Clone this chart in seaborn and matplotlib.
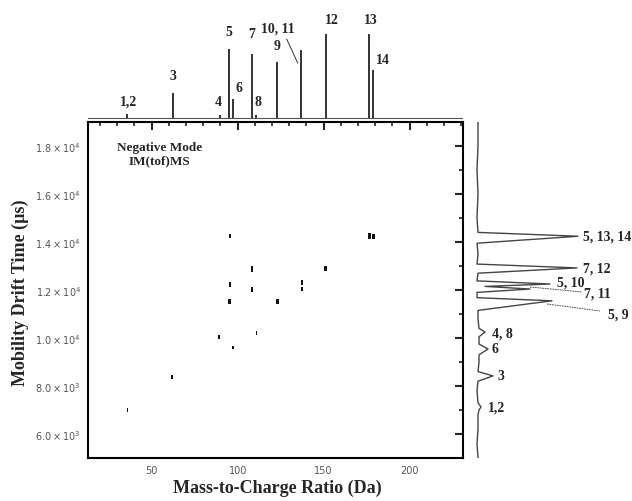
import numpy as np
import matplotlib.pyplot as plt
import seaborn as sns
from matplotlib.ticker import MultipleLocator, FuncFormatter

sns.set_style("white")
plt.rcParams['font.family'] = ['Liberation Serif', 'DejaVu Serif']

# 2D spots (m/z, drift time, rough intensity)
spot_mz = [36, 62, 89, 95.3, 95.3, 95.3, 97.3, 108.5, 108.5, 110.9,
           123.1, 137.4, 137.4, 151.2, 176.6, 179.0]
spot_drift = [7000, 8375, 10040, 14250, 12220, 11530, 9600, 12875, 12010, 10210,
              11530, 12320, 12040, 12900, 14240, 14240]
spot_int = [4, 25, 3, 40, 40, 45, 12, 60, 50, 3, 56, 40, 40, 84, 84, 48]

# top mass spectrum: peak positions and heights
top_mz = [35.9, 62.4, 89.5, 94.9, 97.3, 108.3, 110.9, 122.9, 137.0, 151.2, 176.3, 178.7]
top_int = [4, 25, 3, 69, 19, 64, 3, 56, 68, 84, 84, 48]
top_labels = ["1,2", "3", "4", "5", "6", "7", "8", "9", "10, 11", "12", "13", "14"]
top_label_x = [36.6, 62.2, 89.0, 94.8, 100.6, 108.1, 111.6, 122.7, 123.3, 154.7, 177.3, 184.3]
top_label_y = [16.5, 41.5, 16.5, 85.5, 29.5, 83.5, 16.5, 71.5, 89.5, 98.5, 98.5, 57.5]

# right mobility spectrum (drift time, intensity)
drift_t = [5000, 5600, 6200, 6800, 7000, 7125, 7300, 7800, 8200, 8420, 8600, 9000,
           9300, 9540, 9750, 10050, 10250, 10400, 10800, 11150, 11550, 11680,
           11900, 12040, 12150, 12250, 12380, 12700, 12920, 13080, 13500, 13950,
           14240, 14400, 15000, 16000, 17000, 18000, 19000]
drift_int = [3, 2, 3, 3, 4, 6, 3, 2, 3, 18, 3, 4,
             4, 13, 4, 4, 10, 4, 3, 3, 77, 2,
             2, 55, 10, 75, 2, 3, 102, 2, 3, 2,
             103, 3, 2, 3, 2, 3, 3]
right_labels = ["5, 13, 14", "7, 12", "5, 10", "7, 11", "5, 9", "4, 8", "6", "3", "1,2"]
right_label_x = [108, 108, 82, 109, 133, 17, 17, 23, 13]
right_label_y = [14250, 12917, 12333, 11875, 11000, 10208, 9542, 8417, 7125]

W, H = 632, 502


def box(l, t, r, b):
    return [l / W, 1 - b / H, (r - l) / W, (b - t) / H]


fig = plt.figure(figsize=(6.32, 5.02), dpi=100)
ax = fig.add_axes(box(88, 123, 463, 459))
ax_top = fig.add_axes(box(88, 10, 463, 123))
ax_right = fig.add_axes(box(465, 123, 632, 459))

# main 2D map
rect = [(-1, -2.2), (1, -2.2), (1, 2.2), (-1, 2.2)]
sns.scatterplot(x=spot_mz, y=spot_drift, size=spot_int, sizes=(6, 17),
                marker=rect, color='#111111', linewidth=0,
                legend=False, ax=ax)
ax.set_xlim(13, 231)
ax.set_ylim(5000, 19000)
ax.xaxis.set_major_locator(MultipleLocator(50))
ax.xaxis.set_minor_locator(MultipleLocator(10))
ax.yaxis.set_major_locator(MultipleLocator(2000))
ax.yaxis.set_minor_locator(MultipleLocator(1000))


def sci(v, pos):
    e = int(np.floor(np.log10(v)))
    return rf"${v / 10 ** e:.1f}\times10^{{{e}}}$"


ax.yaxis.set_major_formatter(FuncFormatter(sci))
ax.tick_params(which='both', direction='in', top=True, right=True,
               labelsize=7, labelcolor='#555555', pad=5)
ax.tick_params(which='major', length=6, width=1.5)
ax.tick_params(which='minor', length=3, width=1.2)
for lab in ax.get_xticklabels() + ax.get_yticklabels():
    lab.set_family('DejaVu Sans')
for s in ax.spines.values():
    s.set_linewidth(1.5)
    s.set_color('black')

ax.set_xlabel("Mass-to-Charge Ratio (Da)", fontsize=13, fontweight='bold')
ax.set_ylabel("Mobility Drift Time (µs)", fontsize=13, fontweight='bold')
ax.xaxis.set_label_coords(0.505, -0.062)
ax.yaxis.set_label_coords(-0.158, 0.494)
ax.text(0.19, 0.905, "Negative Mode\nIM(tof)MS", transform=ax.transAxes,
        ha='center', va='center', fontsize=9.5, fontweight='bold', linespacing=1.1)

# top mass spectrum
ax_top.plot([13, 231], [0, 0], color='#555555', lw=0.8)
ax_top.vlines(top_mz, 0, top_int, color='#333333', lw=1.4)
ax_top.set_xlim(13, 231)
ax_top.set_ylim(-4.5, 108.5)
ax_top.axis('off')
for lab, x, y in zip(top_labels, top_label_x, top_label_y):
    ax_top.text(x, y, lab, ha='center', va='center', fontsize=10, fontweight='bold')
ax_top.plot([128.5, 134.9], [78.5, 54.5], color='#333333', lw=0.7)

# right mobility spectrum
sns.lineplot(x=drift_int, y=drift_t, sort=False, estimator=None,
             color='#444444', lw=1.0, ax=ax_right)
ax_right.set_xlim(-10, 157)
ax_right.set_ylim(5000, 19000)
ax_right.axis('off')
for lab, x, y in zip(right_labels, right_label_x, right_label_y):
    ax_right.text(x, y, lab, ha='left', va='center', fontsize=10,
                  fontweight='bold', clip_on=False)
ax_right.plot([55, 107], [12125, 11917], color='#333333', lw=0.6, ls=(0, (2, 1)))
ax_right.plot([72, 125], [11417, 11125], color='#333333', lw=0.6, ls=(0, (2, 1)))

fig.savefig("out.png", dpi=100)
